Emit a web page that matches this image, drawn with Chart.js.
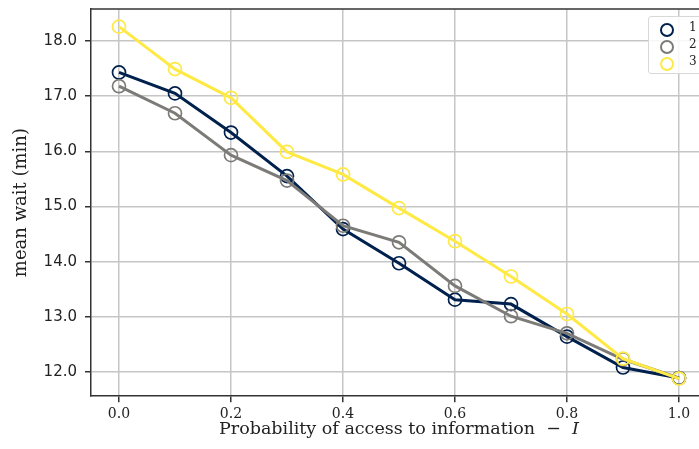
<!DOCTYPE html>
<html>
<head>
<meta charset="utf-8">
<script src="https://cdn.jsdelivr.net/npm/chart.js@4"></script>
<style>
  html, body { margin: 0; padding: 0; background: #fff; overflow: hidden; }
  #wrap { position: relative; width: 720px; height: 449px; }
  #legend {
    position: absolute; left: 648px; top: 16px; width: 70px; height: 56px;
    border: 1px solid #d8d8d8; border-radius: 3px; background: rgba(255,255,255,0.85);
    font-family: "DejaVu Serif", serif; font-size: 12px; color: #222;
  }
  .item { position: absolute; left: 0; height: 17px; }
  .dot { position: absolute; left: 11px; top: 2px; width: 10px; height: 10px; border-radius: 50%; border: 2px solid; box-sizing: content-box; }
  .lbl { position: absolute; left: 40px; top: -1px; }
</style>
</head>
<body>
<div id="wrap">
  <canvas id="waitChart"></canvas>
  <div id="legend"></div>
</div>
<script>
const xValues = [0.0, 0.1, 0.2, 0.3, 0.4, 0.5, 0.6, 0.7, 0.8, 0.9, 1.0];
const wait1 = [17.43, 17.05, 16.34, 15.55, 14.59, 13.97, 13.31, 13.23, 12.64, 12.08, 11.89];
const wait2 = [17.18, 16.69, 15.93, 15.47, 14.65, 14.35, 13.56, 13.01, 12.70, 12.23, 11.89];
const wait3 = [18.26, 17.49, 16.97, 15.99, 15.58, 14.97, 14.37, 13.73, 13.05, 12.24, 11.88];
const seriesNames = ['1', '2', '3'];
const seriesColors = ['#00204d', '#7c7b78', '#ffe945'];
const xTicks = [0.0, 0.2, 0.4, 0.6, 0.8, 1.0];
const yTicks = [12, 13, 14, 15, 16, 17, 18];
const xTitle = ['Probability of access to information', '  \u2212  ', 'I'];

const allSeries = [wait1, wait2, wait3];

// top spine + x axis title with an italic I (like the LaTeX label)
const extras = {
    id: 'extras',
    afterDraw(chart) {
        const a = chart.chartArea, ctx = chart.ctx;
        ctx.save();
        ctx.strokeStyle = '#333';
        ctx.lineWidth = 1.5;
        ctx.beginPath();
        ctx.moveTo(a.left, a.top);
        ctx.lineTo(a.right, a.top);
        ctx.stroke();

        const fonts = ['17.5px "DejaVu Serif"', '17.5px "DejaVu Serif"', 'italic 17.5px "DejaVu Serif"'];
        let widths = xTitle.map((t, i) => { ctx.font = fonts[i]; return ctx.measureText(t).width; });
        let total = widths.reduce((s, w) => s + w, 0);
        let x = (a.left + a.right) / 2 - total / 2;
        ctx.fillStyle = '#222';
        ctx.textBaseline = 'alphabetic';
        ctx.textAlign = 'left';
        xTitle.forEach((t, i) => {
            ctx.font = fonts[i];
            ctx.fillText(t, x, a.bottom + 38);
            x += widths[i];
        });
        ctx.restore();
    }
};

const datasets = allSeries.map((vals, i) => ({
    label: seriesNames[i],
    data: vals.map((v, j) => ({ x: xValues[j], y: v })),
    borderColor: seriesColors[i],
    backgroundColor: 'rgba(0,0,0,0)',
    borderWidth: 3,
    pointRadius: 6.5,
    pointBorderWidth: 1.7,
    pointBackgroundColor: 'rgba(0,0,0,0)',
    pointBorderColor: seriesColors[i],
    tension: 0,
    order: 2 - i
}));

new Chart(document.getElementById('waitChart').getContext('2d'), {
    type: 'line',
    data: { datasets: datasets },
    options: {
        responsive: true,
        maintainAspectRatio: false,
        animation: false,
        layout: { padding: { top: 9, right: 13, left: 11, bottom: 22 } },
        plugins: { legend: { display: false }, tooltip: { enabled: false } },
        scales: {
            x: {
                type: 'linear',
                min: -0.05,
                max: 1.05,
                afterBuildTicks: axis => { axis.ticks = xTicks.map(v => ({ value: v })); },
                ticks: {
                    callback: v => v.toFixed(1),
                    color: '#222',
                    font: { family: 'DejaVu Serif', size: 14 },
                    padding: 4,
                    maxRotation: 0
                },
                grid: { color: '#c6c6c6', lineWidth: 1.5, tickColor: '#333', tickLength: 6 },
                border: { color: '#333', width: 1.5 }
            },
            y: {
                min: 11.56,
                max: 18.58,
                afterBuildTicks: axis => { axis.ticks = yTicks.map(v => ({ value: v })); },
                afterFit: axis => { axis.paddingTop = 0; axis.paddingBottom = 0; },
                ticks: {
                    callback: v => v.toFixed(1),
                    color: '#222',
                    font: { family: 'DejaVu Sans', size: 15 },
                    padding: 8
                },
                grid: { color: '#c6c6c6', lineWidth: 1.5, tickColor: '#333', tickLength: 6 },
                border: { color: '#333', width: 1.5 },
                title: {
                    display: true,
                    text: 'mean wait (min)',
                    color: '#222',
                    font: { family: 'DejaVu Serif', size: 18 },
                    padding: { top: 0, bottom: 3 }
                }
            }
        }
    },
    plugins: [extras]
});

// legend box in the upper right corner
const legend = document.getElementById('legend');
seriesNames.forEach((name, i) => {
    const item = document.createElement('div');
    item.className = 'item';
    item.style.top = (4 + i * 17) + 'px';
    item.innerHTML = '<span class="dot" style="border-color:' + seriesColors[i] + '"></span><span class="lbl">' + name + '</span>';
    legend.appendChild(item);
});
</script>
</body>
</html>
